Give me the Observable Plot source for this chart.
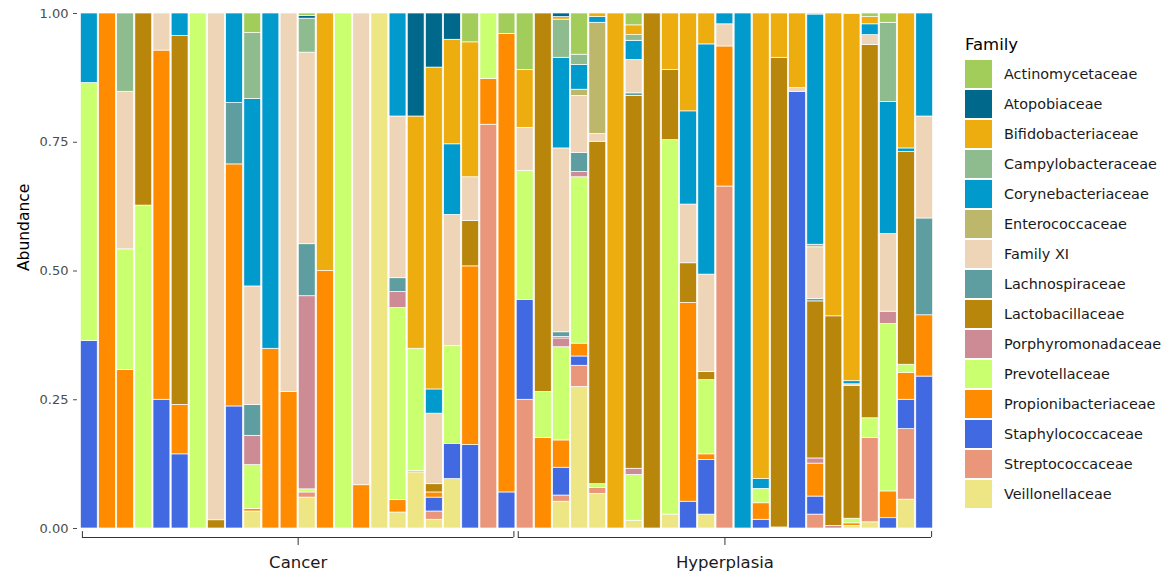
<!DOCTYPE html>
<html><head><meta charset="utf-8">
<script src="https://cdn.jsdelivr.net/npm/d3@7"></script>
<script src="https://cdn.jsdelivr.net/npm/@observablehq/plot@0.6"></script>
<style>
body{margin:0;background:#fff;font-family:"DejaVu Sans",sans-serif}
#wrap{position:relative;width:1170px;height:583px;overflow:hidden}
#legend{position:absolute;left:965px;top:34px;color:#000}
.lt{font-size:16.5px;height:26px;line-height:22px}
.row{display:flex;align-items:center;height:28px;margin-bottom:2px}
.key{width:27px;height:28px}
.lab{margin-left:12px;font-size:14.4px;color:#1a1a1a;white-space:nowrap}
</style></head><body><div id="wrap"><div id="chart"></div><div id="legend"></div></div>
<script>
// Groups of samples (24 Cancer, 23 Hyperplasia)
const groupLabels = ["Cancer", "Hyperplasia"];
const groupSizes = [24, 23];
const yTicks = [0, 0.25, 0.5, 0.75, 1];

// Legend order (alphabetical) and colours
const families = ["Actinomycetaceae","Atopobiaceae","Bifidobacteriaceae","Campylobacteraceae","Corynebacteriaceae","Enterococcaceae","Family XI","Lachnospiraceae","Lactobacillaceae","Porphyromonadaceae","Prevotellaceae","Propionibacteriaceae","Staphylococcaceae","Streptococcaceae","Veillonellaceae"];
const colors = ["#A2CD5A","#00688B","#EEAD0E","#8FBC8F","#009ACD","#BDB76B","#EED5B7","#5F9EA0","#B8860B","#CD8C95","#CAFF70","#FF8C00","#4169E1","#E9967A","#EEE685"];

// Relative abundance per sample (Cancer 1-24, then Hyperplasia 25-47)
const veillonellaceae = [0,0,0,0,0,0,0,0,0,0.033,0,0,0.06,0,0,0,1,0.031,0.109,0.017,0.096,0,0,0,
  0,0,0.052,0.275,0.067,0,0.015,0,0.027,0,0.027,0,0,0,0,0,0,0,0.005,0.012,0,0.056,0];
const streptococcaceae = [0,0,0,0,0,0,0,0,0,0,0,0,0.01,0,0,0,0,0,0,0.016,0,0,0.784,0,
  0.25,0,0.012,0.041,0.012,0,0,0,0,0,0,0.664,0,0,0,0,0.027,0,0,0.164,0,0.137,0];
const staphylococcaceae = [0.364,0,0,0,0.25,0.144,0,0,0.237,0,0,0,0,0,0,0,0,0,0,0.027,0.068,0.162,0,0.07,
  0.194,0,0.054,0.018,0,0,0,0,0,0.052,0.106,0,0,0.017,0,0.848,0.035,0,0,0,0.02,0.057,0.295];
const propionibacteriaceae = [0,1,0.308,0,0.678,0.096,0,0,0.47,0.005,0.349,0.265,0,0.5,0,0.084,0,0.024,0.003,0.01,0,0.347,0.089,0.89,
  0,0.176,0.053,0.025,0,0,0,0,0,0.386,0.011,0.272,0,0.032,0,0,0.064,0,0.005,0,0.052,0.052,0.119];
const prevotellaceae = [0.501,0,0.234,0.627,0,0,1,0,0,0.085,0,0,0.006,0,1,0,0,0.373,0.237,0,0.19,0,0.127,0,
  0.25,0.089,0.181,0.323,0.007,0,0.089,0,0.727,0,0.144,0,0,0.028,0.002,0,0,0,0.009,0.038,0.325,0.016,0];
const porphyromonadaceae = [0,0,0,0,0,0,0,0,0,0.057,0,0,0.375,0,0,0,0,0.031,0,0,0,0,0,0,
  0,0,0.017,0.01,0,0,0.012,0,0,0,0,0,0,0,0,0,0.01,0.005,0,0,0.024,0,0];
const lactobacillaceae = [0,0,0,0.373,0,0.716,0,0.016,0,0,0,0,0,0,0,0,0,0,0,0.016,0,0.088,0,0,
  0,0.735,0.003,0,0.665,0,0.724,1,0.136,0.077,0.016,0,0,0,0.912,0,0.305,0.407,0.258,0.725,0,0.413,0];
const lachnospiraceae = [0,0,0,0,0,0,0,0,0.119,0.06,0,0,0.101,0,0,0,0,0.027,0,0,0,0,0,0,
  0,0,0.009,0.037,0,0,0.005,0,0,0,0,0,0,0,0,0,0.005,0,0,0,0,0,0.188];
const familyXI = [0,0,0.306,0,0.072,0,0,0.984,0,0.23,0,0.735,0.372,0,0,0.916,0,0.314,0,0.137,0.255,0.085,0,0,
  0.084,0,0.357,0.111,0.015,0,0.065,0,0,0.114,0.189,0.043,0,0,0,0.007,0.1,0,0.003,0.019,0.151,0,0.198];
const enterococcaceae = [0,0,0,0,0,0,0,0,0,0,0,0,0,0,0,0,0,0,0,0,0,0,0,0,
  0,0,0,0.012,0.216,0,0,0,0,0,0,0,0,0,0,0,0.005,0,0,0,0,0,0];
const corynebacteriaceae = [0.135,0,0,0,0,0.044,0,0,0.174,0.364,0.651,0,0,0,0,0,0,0.2,0,0.047,0.137,0,0,0,
  0,0,0.176,0.048,0.011,0,0.037,0,0,0.181,0.447,0.021,1,0.019,0,0,0.447,0,0.006,0.021,0.256,0.007,0.2];
const campylobacteraceae = [0,0,0.152,0,0,0,0,0,0,0.128,0,0,0.066,0,0,0,0,0,0,0,0,0,0,0,
  0,0,0.074,0.02,0,0,0.011,0,0,0,0,0,0,0,0,0,0,0,0,0,0.154,0,0];
const bifidobacteriaceae = [0,0,0,0,0,0,0,0,0,0,0,0,0,0.5,0,0,0,0,0.451,0.625,0.203,0.262,0,0,
  0.112,0,0.005,0,0.007,1,0.019,0,0.11,0.19,0.06,0,0,0.904,0.086,0.145,0.002,0.588,0.713,0.014,0,0.262,0];
const atopobiaceae = [0,0,0,0,0,0,0,0,0,0,0,0,0.005,0,0,0,0,0,0.2,0.105,0.051,0,0,0,
  0,0,0.007,0,0,0,0,0,0,0,0,0,0,0,0,0,0,0,0,0,0,0,0];
const actinomycetaceae = [0,0,0,0,0,0,0,0,0,0.038,0,0,0.005,0,0,0,0,0,0,0,0,0.056,0,0.04,
  0.11,0,0,0.08,0,0,0.023,0,0,0,0,0,0,0,0,0,0,0,0.001,0.007,0.018,0,0];

// Stacking order, bottom to top
const stackOrder = [
  ["Veillonellaceae", veillonellaceae], ["Streptococcaceae", streptococcaceae],
  ["Staphylococcaceae", staphylococcaceae], ["Propionibacteriaceae", propionibacteriaceae],
  ["Prevotellaceae", prevotellaceae], ["Porphyromonadaceae", porphyromonadaceae],
  ["Lactobacillaceae", lactobacillaceae], ["Lachnospiraceae", lachnospiraceae],
  ["Family XI", familyXI], ["Enterococcaceae", enterococcaceae],
  ["Corynebacteriaceae", corynebacteriaceae], ["Campylobacteraceae", campylobacteraceae],
  ["Bifidobacteriaceae", bifidobacteriaceae], ["Atopobiaceae", atopobiaceae],
  ["Actinomycetaceae", actinomycetaceae]
];

const data = [];
stackOrder.forEach(([family, vals]) => vals.forEach((v, i) => { if (v > 0) data.push({i, family, value: v}); }));

const nSamples = d3.sum(groupSizes);
const groups = [];
let acc = 0;
groupLabels.forEach((label, k) => { groups.push({label, start: acc, end: acc + groupSizes[k]}); acc += groupSizes[k]; });
const mid = d => (d.start + d.end) / 2;

const chart = Plot.plot({
  width: 1170, height: 583,
  marginLeft: 77, marginRight: 234, marginTop: 13, marginBottom: 55,
  style: {fontFamily: "DejaVu Sans", fontSize: "13px", color: "#4d4d4d", background: "white", overflow: "visible"},
  x: {domain: [-0.15, nSamples + 0.15], axis: null},
  y: {domain: [0, 1], ticks: yTicks, tickFormat: d3.format(".2f"), tickSize: 4, tickPadding: 5, label: null},
  color: {domain: families, range: colors},
  marks: [
    Plot.rectY(data, {x1: "i", x2: d => d.i + 1, y: "value", fill: "family", stroke: "white", strokeWidth: 0.7, insetLeft: 0.65, insetRight: 0.65}),
    Plot.ruleY(groups, {y: -0.0175, x1: d => d.start + 0.12, x2: d => d.end - 0.12, stroke: "#333", strokeWidth: 1}),
    Plot.ruleX(groups, {x: d => d.start + 0.12, y1: -0.0175, y2: -0.006, stroke: "#333"}),
    Plot.ruleX(groups, {x: d => d.end - 0.12, y1: -0.0175, y2: -0.006, stroke: "#333"}),
    Plot.ruleX(groups, {x: mid, y1: -0.0175, y2: -0.033, stroke: "#333"}),
    Plot.text(groups, {x: mid, y: 0, dy: 34, text: "label", fontSize: 16.5, fill: "#1a1a1a"}),
    Plot.text(["Abundance"], {frameAnchor: "left", rotate: -90, dx: -53, fontSize: 15.5, fill: "#000"})
  ]
});
document.getElementById("chart").appendChild(chart);

const legend = document.getElementById("legend");
const t = document.createElement("div"); t.className = "lt"; t.textContent = "Family"; legend.appendChild(t);
families.forEach((f, k) => {
  const row = document.createElement("div"); row.className = "row";
  const key = document.createElement("div"); key.className = "key"; key.style.background = colors[k];
  const lab = document.createElement("div"); lab.className = "lab"; lab.textContent = f;
  row.appendChild(key); row.appendChild(lab); legend.appendChild(row);
});
</script></body></html>
